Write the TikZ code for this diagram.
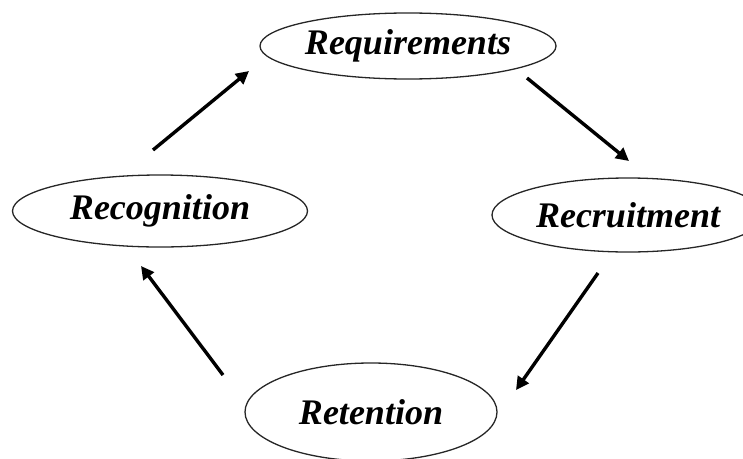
\documentclass[tikz,border=0pt]{standalone}
\usepackage{fontspec}
\setmainfont{Liberation Serif}
\usetikzlibrary{shapes.geometric,arrows.meta}
\begin{document}
\begin{tikzpicture}[x=1pt,y=-1pt,
  oval/.style={ellipse,draw=black!85,line width=1.3pt,inner sep=0pt,
    font=\fontsize{36}{42}\selectfont\bfseries\itshape},
  arr/.style={line width=3.4pt,-{Triangle[length=13pt,width=13pt]}}]
\useasboundingbox (0,0) rectangle (743,458);
\node[oval,minimum width=296pt,minimum height=66pt] (req) at (408,46) {Requirements};
\node[oval,minimum width=295pt,minimum height=72pt] (rec) at (160,211) {Recognition};
\node[oval,minimum width=272pt,minimum height=74pt] (rcr) at (628,215) {Recruitment};
\node[oval,minimum width=252pt,minimum height=98pt] (ret) at (371,412) {Retention};
\coordinate (a1s) at (153,150); \coordinate (a1e) at (249,71);
\coordinate (a2s) at (527,78);  \coordinate (a2e) at (629,161);
\coordinate (a3s) at (598,273); \coordinate (a3e) at (516,390);
\coordinate (a4s) at (223,375); \coordinate (a4e) at (141,266);
\draw[arr] (a1s) -- (a1e);
\draw[arr] (a2s) -- (a2e);
\draw[arr] (a3s) -- (a3e);
\draw[arr] (a4s) -- (a4e);
\end{tikzpicture}
\end{document}
